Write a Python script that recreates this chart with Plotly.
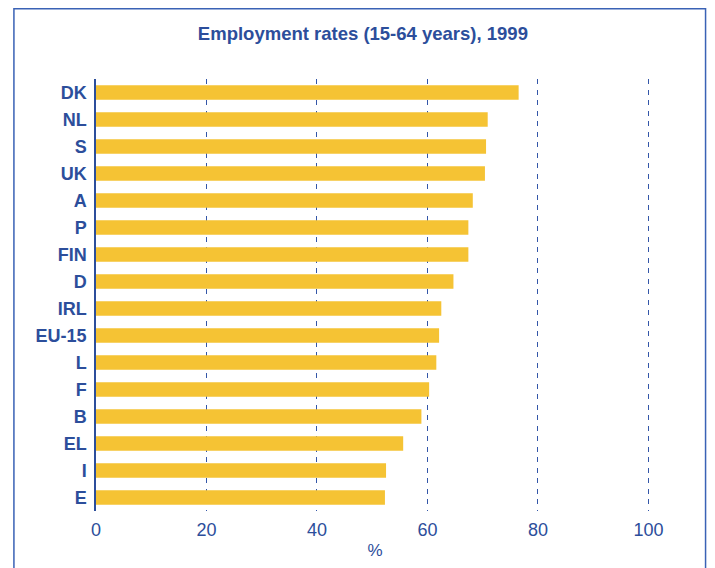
import plotly.graph_objects as go

countries = ["DK", "NL", "S", "UK", "A", "P", "FIN", "D", "IRL", "EU-15", "L", "F", "B", "EL", "I", "E"]
rates = [76.5, 70.9, 70.6, 70.4, 68.2, 67.4, 67.4, 64.7, 62.5, 62.1, 61.6, 60.3, 58.9, 55.6, 52.5, 52.3]
x_ticks = [0, 20, 40, 60, 80, 100]

blue = "#2C4E9B"
grid_blue = "#3356A8"
bar_color = "#F5C334"
font_family = "Liberation Sans, Arial, sans-serif"

fig = go.Figure(go.Bar(
    x=rates, y=countries, orientation="h",
    marker=dict(color=bar_color, line=dict(width=0)),
    width=0.545,
))

fig.update_layout(
    width=707, height=560,
    margin=dict(l=88, r=61, t=71, b=57, autoexpand=False),
    paper_bgcolor="white", plot_bgcolor="white",
    showlegend=False,
    title=dict(text="<b>Employment rates (15-64 years), 1999</b>",
               x=0.502, xanchor="center", y=0.955, yanchor="middle",
               font=dict(family=font_family, size=18.5, color=blue)),
    font=dict(family=font_family, color=blue),
    shapes=[dict(type="rect", xref="paper", yref="paper",
                 x0=-0.1471, x1=1.0924, y0=-0.3, y1=1.1626,
                 line=dict(color="#3A62B5", width=1.5), layer="below")],
)

fig.update_xaxes(
    range=[0, 101], tickvals=x_ticks, ticktext=[str(v) for v in x_ticks],
    showgrid=True, gridcolor=grid_blue, griddash="5px,5.5px", gridwidth=1.3,
    zeroline=False, showline=False, ticks="", automargin=False,
    tickfont=dict(size=18, color=blue), ticklabelstandoff=6,
    title=dict(text="%", font=dict(size=17, color=blue), standoff=5),
)
fig.update_yaxes(
    autorange="reversed", categoryorder="array", categoryarray=countries,
    showline=True, linecolor=blue, linewidth=1.5, automargin=False,
    showgrid=False, ticks="", ticklabelstandoff=4,
    tickfont=dict(size=18, color=blue, weight="bold"),
)

fig.write_html("out.html")
